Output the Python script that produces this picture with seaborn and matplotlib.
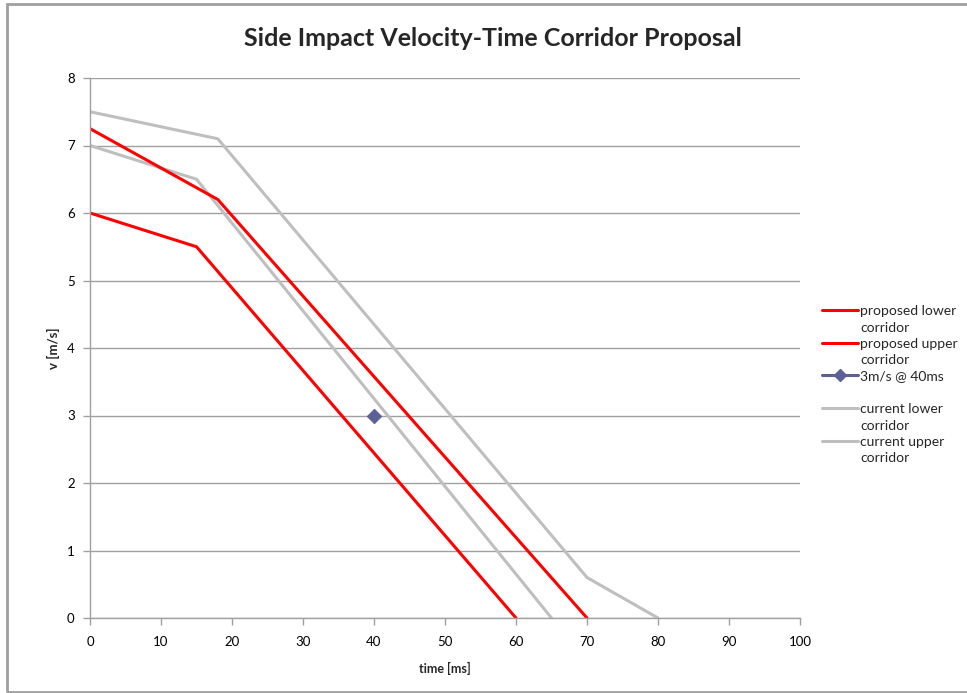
import matplotlib
matplotlib.use("Agg")
import matplotlib.pyplot as plt
from matplotlib.lines import Line2D
from matplotlib.patches import Rectangle
import seaborn as sns
import pandas as pd

sns.set_theme(style="white")
plt.rcParams["font.family"] = ["Lato", "DejaVu Sans"]

# Corridor break points: time [ms] and velocity [m/s]
proposed_lower_t = [0, 15, 60]
proposed_lower_v = [6.0, 5.5, 0.0]
proposed_upper_t = [0, 18, 70]
proposed_upper_v = [7.25, 6.2, 0.0]
current_lower_t = [0, 15, 65]
current_lower_v = [7.0, 6.5, 0.0]
current_upper_t = [0, 18, 70, 80]
current_upper_v = [7.5, 7.1, 0.6, 0.0]
target_t = [40]
target_v = [3.0]

series_names = ["proposed lower\ncorridor", "proposed upper\ncorridor",
                "current lower\ncorridor", "current upper\ncorridor"]
target_name = "3m/s @ 40ms"

RED = "#ff0000"
GRAY = "#bfbfbf"
NAVY = "#5b6095"

frames = []
for name, t, v in zip(series_names,
                      [proposed_lower_t, proposed_upper_t, current_lower_t, current_upper_t],
                      [proposed_lower_v, proposed_upper_v, current_lower_v, current_upper_v]):
    frames.append(pd.DataFrame({"time": t, "v": v, "series": name}))
df = pd.concat(frames, ignore_index=True)
target = pd.DataFrame({"time": target_t, "v": target_v})

fig = plt.figure(figsize=(9.67, 6.93), dpi=100)
W, H = 967, 693
ax = fig.add_axes([90 / W, 1 - 618 / H, 710 / W, 540 / H])

palette = {series_names[0]: RED, series_names[1]: RED,
           series_names[2]: GRAY, series_names[3]: GRAY}

# current corridor drawn first, proposed on top
for name in [series_names[2], series_names[3], series_names[0], series_names[1]]:
    sub = df[df["series"] == name]
    sns.lineplot(data=sub, x="time", y="v", ax=ax, color=palette[name],
                 linewidth=2.2, sort=False, estimator=None, legend=False)

sns.scatterplot(data=target, x="time", y="v", ax=ax, marker="D", s=55,
                color=NAVY, edgecolor=NAVY, legend=False, zorder=5)

ax.set_xlim(0, 100)
ax.set_ylim(0, 8)
ax.set_xticks(range(0, 101, 10))
ax.set_yticks(range(0, 9))
ax.yaxis.grid(True, color="#a0a0a0", linewidth=1)
ax.xaxis.grid(False)
ax.set_axisbelow(True)
for side in ["top", "right"]:
    ax.spines[side].set_visible(False)
for side in ["left", "bottom"]:
    ax.spines[side].set_color("#a0a0a0")
    ax.spines[side].set_linewidth(1)
ax.tick_params(axis="both", which="major", direction="out", length=5, width=1,
               color="#a0a0a0", labelsize=9.5, labelcolor="#000000", pad=6)
ax.tick_params(axis="x", pad=8)
ax.xaxis.set_ticks_position("bottom")
ax.yaxis.set_ticks_position("left")

ax.set_xlabel("time [ms]", fontsize=9, fontweight="bold", labelpad=10)
ax.set_ylabel("v [m/s]", fontsize=9.5, fontweight="bold", labelpad=5)

fig.suptitle("Side Impact Velocity-Time Corridor Proposal", x=0.51, y=1 - 38 / H,
             va="center", fontsize=18, fontweight="bold")

handles = [
    Line2D([], [], color=RED, linewidth=2.2),
    Line2D([], [], color=RED, linewidth=2.2),
    Line2D([], [], color=NAVY, linewidth=2.2, marker="D", markersize=6),
    Line2D([], [], color=GRAY, linewidth=2.2),
    Line2D([], [], color=GRAY, linewidth=2.2),
]
# the single-line entry keeps the same two-line slot height as the others
labels = [series_names[0], series_names[1], target_name + "\n",
          series_names[2], series_names[3]]
leg = fig.legend(handles, labels, loc="upper left",
                 bbox_to_anchor=(822 / W, 1 - 305 / H), frameon=False,
                 fontsize=10, handlelength=2.6, handletextpad=0.15,
                 labelspacing=0.3, borderaxespad=0, borderpad=0)
for txt in leg.get_texts():
    txt.set_linespacing(1.45)

# put each legend key beside the first line of its label
for column in leg._legend_handle_box.get_children():
    for item in column.get_children():
        item.align = "top"

# chart outline
fig.patches.append(Rectangle((7 / W, 1 / H), 1.0, 1 - 5 / H, transform=fig.transFigure,
                             fill=False, edgecolor="#a0a0a0", linewidth=2))

fig.savefig("out.png", dpi=100)
